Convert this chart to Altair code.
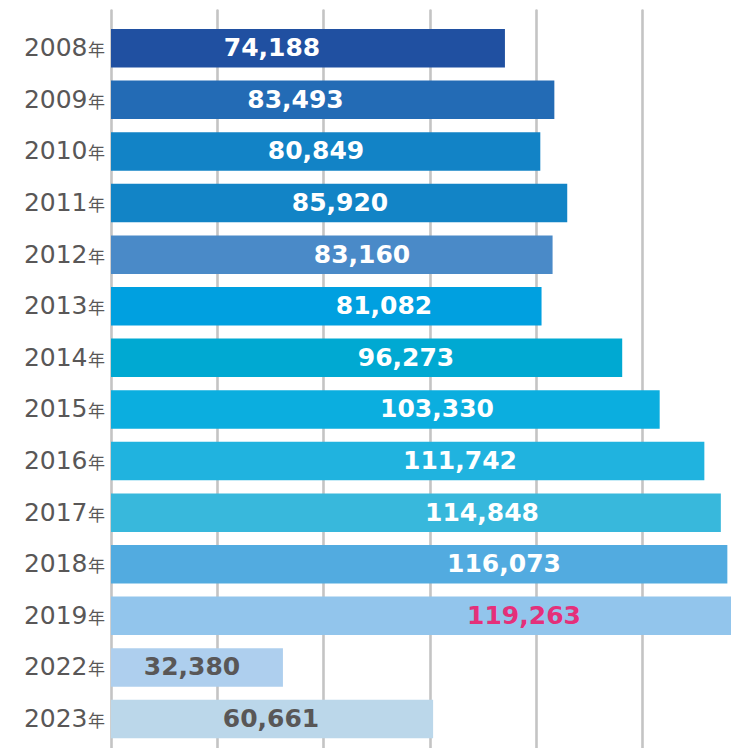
import altair as alt
import pandas as pd

# ---- data ----
years = ["2008", "2009", "2010", "2011", "2012", "2013", "2014",
         "2015", "2016", "2017", "2018", "2019", "2022", "2023"]
values = [74188, 83493, 80849, 85920, 83160, 81082, 96273,
          103330, 111742, 114848, 116073, 119263, 32380, 60661]
# where each value label sits (in data units along the axis)
label_at = [30320, 34745, 38605, 43125, 47268, 51411, 55554,
            61392, 65724, 69867, 74010, 77776, 15254, 30131]
grid_values = [0, 20000, 40000, 60000, 80000, 100000, 120000]

# ---- styles ----
bar_colors = ["#2050A1", "#236BB5", "#1283C6", "#1284C6", "#4A8AC8", "#00A0E0",
              "#00A9D2", "#0BAEDF", "#20B3DF", "#38B8DC", "#52ABE0", "#92C5EC",
              "#AECFEE", "#BBD7EA"]
text_colors = ["#FFFFFF"] * 11 + ["#E4307A", "#595757", "#595757"]

df = pd.DataFrame({
    "year": years,
    "value": values,
    "label": [f"{v:,}" for v in values],
    "label_at": label_at,
})

W = 620
H = 738
x_max = W / 106.2 * 20000

y_enc = alt.Y(
    "year:N", sort=years, title=None,
    scale=alt.Scale(paddingInner=0.254, paddingOuter=0.278, align=0.662),
    axis=alt.Axis(labelFont="DejaVu Sans", labelFontSize=25, labelColor="#595757",
                  ticks=False, domain=False, labelPadding=24),
)

base = alt.Chart(df)

bars = base.mark_bar(clip=True).encode(
    x=alt.X("value:Q", title=None,
            scale=alt.Scale(domain=[0, x_max], nice=False, zero=True),
            axis=alt.Axis(labels=False, ticks=False, domain=False, grid=True,
                          values=grid_values, gridColor="#C4C4C4", gridWidth=2.6,
                          gridCap="round")),
    y=y_enc,
    color=alt.Color("year:N", scale=alt.Scale(domain=years, range=bar_colors), legend=None),
)

labels = base.mark_text(font="DejaVu Sans", fontWeight="bold", fontSize=25,
                        baseline="middle", align="center").encode(
    x=alt.X("label_at:Q"),
    y=alt.Y("year:N", sort=years),
    text="label:N",
    color=alt.Color("year:N", scale=alt.Scale(domain=years, range=text_colors), legend=None),
)

nen = base.mark_text(text="年", font="Noto Sans CJK JP", fontSize=17, align="right",
                     baseline="middle", dy=3, color="#595757").encode(
    x=alt.value(-6),
    y=alt.Y("year:N", sort=years),
)

chart = alt.layer(bars, labels, nen).resolve_scale(color="independent").properties(
    width=W, height=H,
    padding={"left": 15, "top": 2, "right": 0, "bottom": 0},
).configure_view(stroke=None)

chart.save("out.html", embed_options={"renderer": "svg", "actions": False})
